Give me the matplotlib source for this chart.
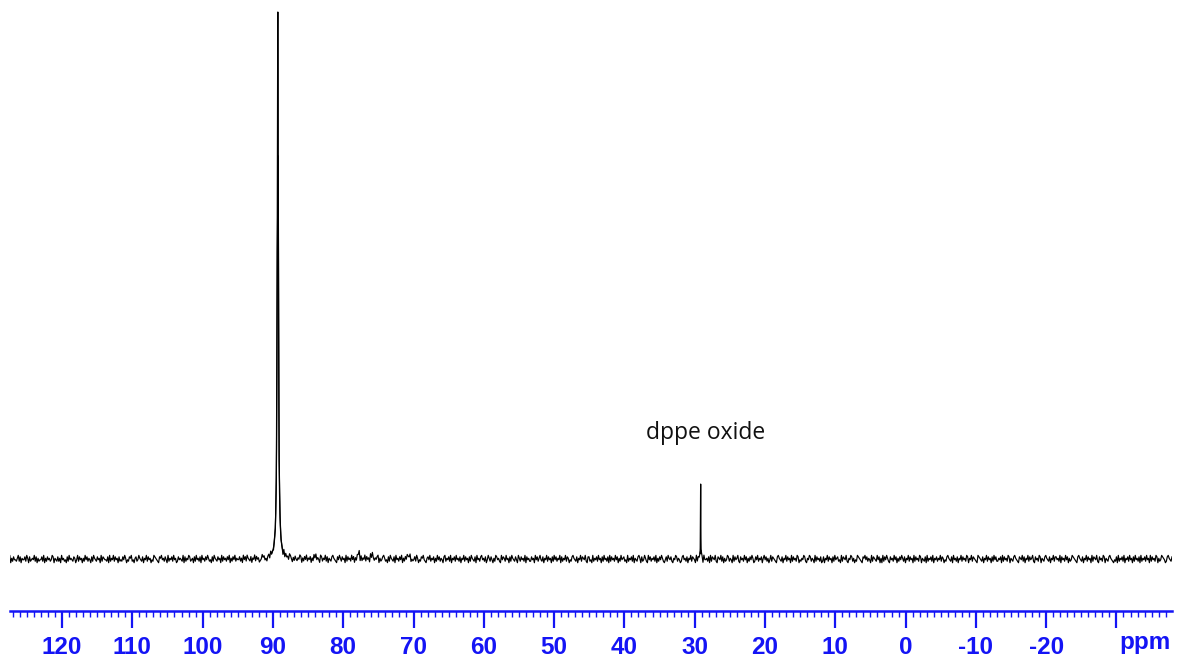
import matplotlib
matplotlib.use('Agg')
import matplotlib.pyplot as plt
from matplotlib.ticker import MultipleLocator, FixedLocator, FuncFormatter
import numpy as np

# axis range (ppm, reversed)
ppm_left = 127.4
ppm_right = -37.9

# peaks: position (ppm), height (relative), full width at half height (ppm)
peak_ppm = [89.3, 29.15, 77.8, 75.9, 70.6, 83.9]
peak_height = [100.0, 13.7, 1.1, 0.9, 0.8, 0.5]
peak_fwhm = [0.18, 0.05, 0.3, 0.3, 0.3, 0.3]

# baseline noise, one digit per sample (4.5 = baseline)
noise_digits = (
    "45364725364435736254463752634547362534463725364534762543635274"
    "53426374543652473645253746354263754364527365443627354736452634"
    "36475243657342563475436254736452437654326574536427354637452364"
    "54372635476345263745362745364753426375436452736453647253647354"
    "46352746375436254736452347563425637453624753645273645376425364"
    "35476253647354625374635427635473625436754326475364527364537462"
    "53647263547364527364354672534675342637543627453647253647536243"
    "46375243657432564735462537463542673546372546374536254736452637"
    "54362745367453624753642537645327465374526375436427536453726453"
    "36452746357436254736452637463547263547365243675436254736547326"
    "63427354637452637453627364537462537456342735463725436752634753"
    "27463546372536475324637546325476354236745362547365427365436274"
    "45362736547326547362534763542736457326453746253647523647354625"
    "74635247365432675436254736452736453762435476325476354273645362"
    "36254736452637456342736547325476352437654326574635427365437462"
    "52736475326453746253647536254736452736453762543627354637254635"
    "47365243675436274536254736453762547365432765436254736452637463"
    "35462736453762543675432654736254736457326453762543675436254736"
    "64537264537462534765432675436254736452736547326453762543675432"
    "43627354637254637452637453627354637452736453762534765423675436"
)
noise_step = 0.27

major_ticks = [120, 110, 100, 90, 80, 70, 60, 50, 40, 30, 20, 10, 0, -10, -20, -30]
label_text = 'dppe oxide'
label_pos = (28.4, 23.0)

blue = '#1414f5'


def lorentz(x, c, h, w):
    g = w / 2.0
    return h / (1 + ((x - c) / g) ** 2)


noise = np.array([int(d) for d in noise_digits], dtype=float)
noise = (noise - 4.5) * noise_step
x = np.linspace(ppm_left + 0.7, ppm_right, len(noise))
y = noise.copy()
for c, h, w in zip(peak_ppm, peak_height, peak_fwhm):
    y += lorentz(x, c, h, w)

fig = plt.figure(figsize=(11.77, 6.57), dpi=100)
ax = fig.add_axes([10 / 1177, 46 / 657, 1162 / 1177, 611 / 657])

ax.plot(x, y, color='black', lw=0.85)

# fine curves for the sharp lines
for c, h, w in zip(peak_ppm, peak_height, peak_fwhm):
    if h < 5:
        continue
    g = w / 2.0
    half = g * np.sqrt(h / 1.0 - 1)
    xf = np.linspace(c - half, c + half, 2001)
    ax.plot(xf, lorentz(xf, c, h, w), color='black', lw=0.9)

ax.text(label_pos[0], label_pos[1], label_text, ha='center', va='center',
        fontsize=16.5, family=['Open Sans', 'DejaVu Sans'], color='#111111')

ax.set_xlim(ppm_left, ppm_right)
ax.set_ylim(-9.5, 102.2)

for s in ['left', 'top', 'right']:
    ax.spines[s].set_visible(False)
ax.spines['bottom'].set_color(blue)
ax.spines['bottom'].set_linewidth(1.8)
ax.set_yticks([])

ax.xaxis.set_major_locator(FixedLocator(major_ticks))
ax.xaxis.set_minor_locator(MultipleLocator(1))
ax.xaxis.set_major_formatter(FuncFormatter(lambda v, p: '' if v < -25 else '%d' % v))
ax.tick_params(axis='x', which='major', length=12, width=1.6, color=blue, pad=6,
               labelcolor=blue, labelsize=17.5)
ax.tick_params(axis='x', which='minor', length=4.5, width=1.0, color=blue)
for t in ax.get_xticklabels():
    t.set_fontweight('bold')
    t.set_family(['Liberation Sans', 'DejaVu Sans'])

ax.annotate('ppm', xy=(-34.05, 0), xycoords=('data', 'axes fraction'),
            xytext=(0, -31), textcoords='offset pixels', ha='center', va='center',
            fontsize=17.5, fontweight='bold', color=blue,
            family=['Liberation Sans', 'DejaVu Sans'], annotation_clip=False)

fig.savefig('out.png', dpi=100)
